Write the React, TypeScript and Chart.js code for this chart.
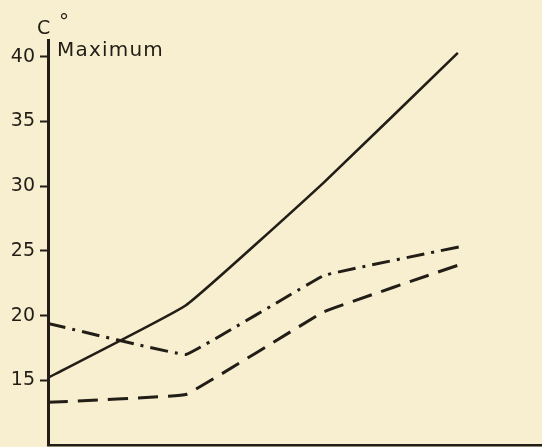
import React, { useEffect, useRef } from "react";
import { Chart, registerables } from "chart.js";

Chart.register(...registerables);

const xPositions = [0, 1, 2, 2.97];
const solidMax = [15.2, 20.8, 30.3, 40.3];
const dashDotMax = [19.4, 17.0, 23.1, 25.4];
const dashedMax = [13.3, 13.9, 20.3, 24.0];
const yTickValues = [15, 20, 25, 30, 35, 40];
const unitLabel = "C";
const degreeLabel = "°";
const panelLabel = "Maximum";

const INK = "#221d16";
const PAPER = "#f7efcf";
const FONT = "'DejaVu Sans', 'Liberation Sans', Arial, sans-serif";

const toPoints = (ys: number[], xs: number[] = xPositions) => ys.map((y, i) => ({ x: xs[i], y }));

export default function App() {
  const ref = useRef<HTMLCanvasElement | null>(null);

  useEffect(() => {
    document.body.style.margin = "0";
    document.body.style.background = PAPER;
    const canvas = ref.current;
    if (!canvas) return;

    const bgPlugin = {
      id: "paper",
      beforeDraw(chart: any) {
        const { ctx, width, height } = chart;
        ctx.save();
        ctx.fillStyle = PAPER;
        ctx.fillRect(0, 0, width, height);
        ctx.restore();
      },
      afterDraw(chart: any) {
        const { ctx } = chart;
        ctx.save();
        ctx.fillStyle = INK;
        ctx.textBaseline = "alphabetic";
        ctx.textAlign = "left";
        ctx.font = `19px ${FONT}`;
        ctx.fillText(unitLabel, 37, 34);
        ctx.font = `20px ${FONT}`;
        ctx.fillText(degreeLabel, 59, 28);
        ctx.font = `20px ${FONT}`;
        (ctx as any).letterSpacing = "1.2px";
        ctx.fillText(panelLabel, 57, 56);
        ctx.restore();
      },
    };

    const chart = new Chart(canvas, {
      type: "line",
      data: {
        datasets: [
          {
            data: toPoints(solidMax, [0, 1, 2, 2.97]),
            borderColor: INK,
            borderWidth: 2.6,
            pointRadius: 0,
            tension: 0.1,
          },
          {
            data: toPoints(dashDotMax, [0, 1, 2, 3.02]),
            borderColor: INK,
            borderWidth: 3,
            borderDash: [18, 7, 3, 7],
            pointRadius: 0,
            tension: 0.05,
          },
          {
            data: toPoints(dashedMax, [0, 1, 2, 3.0]),
            borderColor: INK,
            borderWidth: 3,
            borderDash: [20, 10],
            pointRadius: 0,
            tension: 0.05,
          },
        ],
      },
      options: {
        animation: false,
        responsive: false,
        layout: { padding: { top: 40, left: 0, right: 0, bottom: 0 } },
        plugins: { legend: { display: false }, tooltip: { enabled: false } },
        scales: {
          x: {
            type: "linear",
            min: 0,
            max: 3.58,
            grid: { display: false },
            ticks: { display: false },
            border: { display: true, color: INK, width: 2.5 },
            afterFit(scale: any) {
              scale.height = 2;
              scale.paddingLeft = 0;
              scale.paddingRight = 0;
            },
          },
          y: {
            type: "linear",
            min: 10,
            max: 41.3,
            afterBuildTicks(scale: any) {
              scale.ticks = yTickValues.map((v) => ({ value: v }));
            },
            afterFit(scale: any) {
              scale.width = 48;
              scale.paddingTop = 0;
              scale.paddingBottom = 0;
            },
            grid: {
              drawOnChartArea: false,
              drawTicks: true,
              tickLength: 8,
              tickWidth: 2,
              tickColor: INK,
            },
            border: { display: true, color: INK, width: 3 },
            ticks: {
              color: INK,
              padding: 5,
              font: { size: 19, family: FONT },
            },
          },
        },
      },
      plugins: [bgPlugin],
    } as any);

    return () => chart.destroy();
  }, []);

  return (
    <div style={{ width: 542, height: 447, background: PAPER }}>
      <canvas ref={ref} width={542} height={447} style={{ display: "block" }} />
    </div>
  );
}
